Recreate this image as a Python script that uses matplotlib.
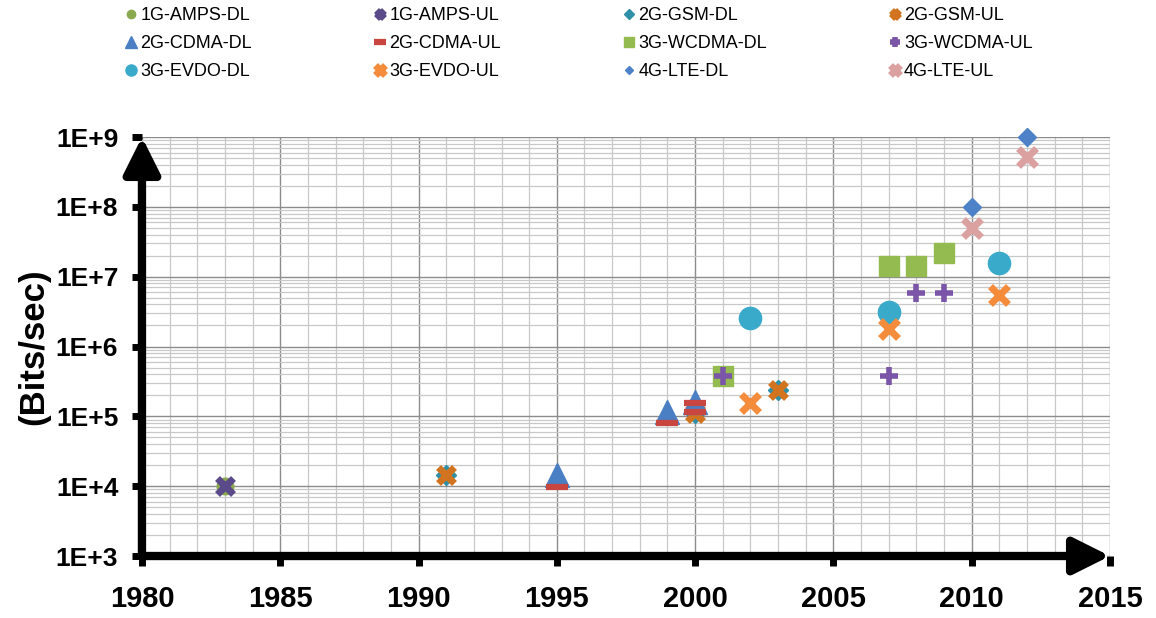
import numpy as np
import matplotlib.pyplot as plt
from matplotlib.ticker import FixedLocator, FuncFormatter, LogLocator, NullFormatter

plt.rcParams['font.family'] = ['Liberation Sans', 'DejaVu Sans']

# data (year, bits/sec)
amps_dl_x = [1983]
amps_dl_y = [1.0e4]
amps_ul_x = [1983]
amps_ul_y = [1.0e4]
gsm_dl_x = [1991, 2000, 2003]
gsm_dl_y = [1.44e4, 1.1e5, 2.4e5]
gsm_ul_x = [1991, 2000, 2003]
gsm_ul_y = [1.44e4, 1.1e5, 2.4e5]
cdma_dl_x = [1995, 1999, 2000]
cdma_dl_y = [1.44e4, 1.15e5, 1.6e5]
cdma_ul_x = [1995, 1999, 2000, 2000]
cdma_ul_y = [9.6e3, 8.0e4, 1.53e5, 1.15e5]
wcdma_dl_x = [2001, 2007, 2008, 2009]
wcdma_dl_y = [3.84e5, 1.44e7, 1.44e7, 2.16e7]
wcdma_ul_x = [2001, 2007, 2008, 2009]
wcdma_ul_y = [3.84e5, 3.84e5, 5.76e6, 5.76e6]
evdo_dl_x = [2002, 2007, 2011]
evdo_dl_y = [2.6e6, 3.1e6, 1.58e7]
evdo_ul_x = [2002, 2007, 2011]
evdo_ul_y = [1.53e5, 1.8e6, 5.4e6]
lte_dl_x = [2010, 2012]
lte_dl_y = [1.0e8, 1.0e9]
lte_ul_x = [2010, 2012]
lte_ul_y = [5.0e7, 5.2e8]

series = [
    ('1G-AMPS-DL', amps_dl_x, amps_dl_y, dict(marker='o', color='#8aa84e', ms=12)),
    ('1G-AMPS-UL', amps_ul_x, amps_ul_y, dict(marker='x', color='#5a4a8a', ms=12, mew=5)),
    ('2G-GSM-DL', gsm_dl_x, gsm_dl_y, dict(marker='D', color='#2f8fa6', ms=10)),
    ('2G-GSM-UL', gsm_ul_x, gsm_ul_y, dict(marker='x', color='#d2731f', ms=12, mew=5)),
    ('2G-CDMA-DL', cdma_dl_x, cdma_dl_y, dict(marker='^', color='#4a7fc4', ms=17)),
    ('2G-CDMA-UL', cdma_ul_x, cdma_ul_y, dict(marker='_', color='#c8463f', ms=16, mew=4.5)),
    ('3G-WCDMA-DL', wcdma_dl_x, wcdma_dl_y, dict(marker='s', color='#94bb4f', ms=15)),
    ('3G-WCDMA-UL', wcdma_ul_x, wcdma_ul_y, dict(marker='+', color='#7a55a8', ms=13, mew=4)),
    ('3G-EVDO-DL', evdo_dl_x, evdo_dl_y, dict(marker='o', color='#3aaacb', ms=16)),
    ('3G-EVDO-UL', evdo_ul_x, evdo_ul_y, dict(marker='x', color='#f58c3c', ms=13, mew=5)),
    ('4G-LTE-DL', lte_dl_x, lte_dl_y, dict(marker='D', color='#4d82c8', ms=9)),
    ('4G-LTE-UL', lte_ul_x, lte_ul_y, dict(marker='x', color='#dba0a0', ms=13, mew=5)),
]

fig = plt.figure(figsize=(11.56, 6.18), dpi=100)
ax = fig.add_axes([0.1228, 0.1003, 0.8374, 0.678])
ax.set_yscale('log')
ax.set_xlim(1980, 2015)
ax.set_ylim(1e3, 1e9)

handles = []
for name, xs, ys, st in series:
    h, = ax.plot(xs, ys, linestyle='none', label=name, clip_on=False, zorder=3, **st)
    handles.append(h)

# grid
ax.xaxis.set_major_locator(FixedLocator(np.arange(1980, 2016, 5)))
ax.xaxis.set_minor_locator(FixedLocator(np.arange(1980, 2016, 1)))
ax.yaxis.set_major_locator(LogLocator(base=10, numticks=20))
ax.yaxis.set_minor_locator(LogLocator(base=10, subs=np.arange(2, 10), numticks=20))
ax.yaxis.set_major_formatter(FuncFormatter(lambda v, p: '1E+%d' % round(np.log10(v))))
ax.yaxis.set_minor_formatter(NullFormatter())
ax.grid(which='major', color='#8c8c8c', lw=1.0, zorder=0)
ax.grid(which='minor', color='#c8c8c8', lw=0.9, zorder=0)
ax.set_axisbelow(True)

for s in ax.spines.values():
    s.set_visible(False)

ax.tick_params(axis='x', which='major', length=7, width=5, pad=14, labelsize=21, direction='out')
ax.tick_params(axis='y', which='major', length=7, width=5, pad=10, labelsize=19, direction='out')
ax.tick_params(which='minor', length=0, labelleft=False, labelbottom=False)
for lab in ax.get_xticklabels() + ax.get_yticklabels():
    lab.set_fontweight('bold')

ax.set_ylabel('(Bits/sec)', fontsize=25, fontweight='bold', labelpad=4)

# thick arrow axes
arrow = dict(arrowstyle='-|>,head_length=2.2,head_width=1.1', lw=6, color='black',
             shrinkA=0, shrinkB=0, mutation_scale=10)
ax.annotate('', xy=(1, 0), xytext=(0, 0), xycoords='axes fraction',
            arrowprops=arrow, annotation_clip=False, zorder=5)
ax.annotate('', xy=(0, 1), xytext=(0, 0), xycoords='axes fraction',
            arrowprops=arrow, annotation_clip=False, zorder=5)

# legend: 3 rows x 4 columns, row-wise order
order = [0, 4, 8, 1, 5, 9, 2, 6, 10, 3, 7, 11]
leg = fig.legend([handles[i] for i in order], [series[i][0] for i in order],
                 loc='upper left', bbox_to_anchor=(0.095, 1.015), ncol=4, frameon=False,
                 fontsize=13, markerscale=0.5, handlelength=0.6, handletextpad=0.2,
                 columnspacing=6.8, labelspacing=0.62)

fig.savefig('out.png', dpi=100)
